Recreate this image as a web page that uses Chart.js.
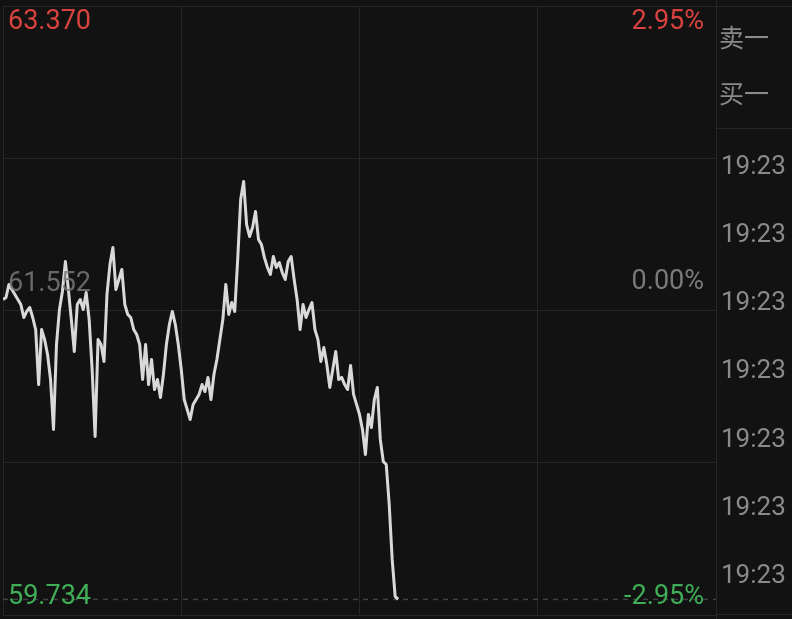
<!DOCTYPE html>
<html>
<head>
<meta charset="utf-8">
<style>
  html, body { margin: 0; padding: 0; background: #121212; }
  canvas { display: block; }
</style>
<script src="https://cdn.jsdelivr.net/npm/chart.js@4/dist/chart.umd.min.js"></script>
</head>
<body>
<canvas id="myChart" width="792" height="619"></canvas>
<script>
// intraday slots across the whole session
var totalSlots = 240;

// price per slot
var priceValues = [
  61.621, 61.634, 61.716, 61.684, 61.653, 61.621, 61.590, 61.508, 61.546, 61.571,
  61.508, 61.432, 61.086, 61.432, 61.370, 61.275, 61.118, 60.803, 61.338, 61.558,
  61.672, 61.860, 61.684, 61.495, 61.294, 61.590, 61.621, 61.558, 61.665, 61.495,
  61.181, 60.759, 61.370, 61.338, 61.231, 61.653, 61.841, 61.948, 61.684, 61.747,
  61.810, 61.590, 61.527, 61.508, 61.432, 61.401, 61.338, 61.118, 61.338, 61.086,
  61.244, 61.055, 61.118, 61.005, 61.149, 61.338, 61.464, 61.546, 61.464, 61.338,
  61.181, 60.992, 60.929, 60.866, 60.961, 60.992, 61.024, 61.086, 61.042, 61.131,
  60.992, 61.149, 61.244, 61.370, 61.495, 61.716, 61.527, 61.602, 61.546, 61.873,
  62.250, 62.364, 62.093, 62.018, 62.074, 62.175, 61.999, 61.967, 61.885, 61.823,
  61.779, 61.892, 61.823, 61.854, 61.791, 61.747, 61.860, 61.892, 61.747, 61.621,
  61.432, 61.590, 61.508, 61.558, 61.602, 61.432, 61.370, 61.231, 61.319, 61.212,
  61.068, 61.181, 61.294, 61.118, 61.131, 61.086, 61.055, 61.206, 61.024, 60.961,
  60.898, 60.803, 60.646, 60.898, 60.816, 60.992, 61.068, 60.741, 60.602, 60.583,
  60.332, 59.986, 59.753, 59.734
];

var topPrice = 63.370;
var midPrice = 61.552;
var bottomPrice = 59.734;
var topPct = '2.95%';
var midPct = '0.00%';
var bottomPct = '-2.95%';

var sideLabels = ['卖一', '买一'];
var timeLabels = ['19:23', '19:23', '19:23', '19:23', '19:23', '19:23', '19:23'];

// axis range a bit wider than the limit prices
var yMin = 59.636;
var yMax = 63.468;

var gridColor = '#262626';

function evenTicks(count) {
    return function (scale) {
        var t = [];
        for (var i = 0; i <= count; i++) {
            t.push({value: scale.min + i * (scale.max - scale.min) / count});
        }
        scale.ticks = t;
    };
}

var labelPlugin = {
    id: 'labels',
    afterDraw: function (chart) {
        var c = chart.ctx;
        var area = chart.chartArea;
        var y = chart.scales.y;
        var w = chart.width;

        c.save();
        // right panel frame
        c.strokeStyle = gridColor;
        c.lineWidth = 1;
        c.beginPath();
        c.moveTo(area.right + 0.5, 0);
        c.lineTo(area.right + 0.5, chart.height);
        c.moveTo(area.right, area.top + 0.5);
        c.lineTo(w, area.top + 0.5);
        c.moveTo(area.right, area.bottom - 0.5);
        c.lineTo(w, area.bottom - 0.5);
        c.moveTo(area.right, 128.5);
        c.lineTo(w, 128.5);
        c.stroke();

        c.font = '27px Roboto';
        c.textBaseline = 'middle';

        var yTop = y.getPixelForValue(topPrice) + 1;
        var yMid = y.getPixelForValue(midPrice) - 26;
        var yBot = y.getPixelForValue(bottomPrice) - 2;

        c.textAlign = 'left';
        c.fillStyle = '#d8433f';
        c.fillText(topPrice.toFixed(3), area.left + 5, yTop);
        c.fillStyle = 'rgba(120,120,120,0.85)';
        c.fillText(midPrice.toFixed(3), area.left + 5, yMid);
        c.fillStyle = '#3fae56';
        c.fillText(bottomPrice.toFixed(3), area.left + 5, yBot);

        c.textAlign = 'right';
        c.fillStyle = '#d8433f';
        c.fillText(topPct, area.right - 12, yTop);
        c.fillStyle = '#7a7a7a';
        c.fillText(midPct, area.right - 12, yMid - 2);
        c.fillStyle = '#3fae56';
        c.fillText(bottomPct, area.right - 12, yBot);

        // right panel text
        c.textAlign = 'left';
        c.fillStyle = '#8a8a8a';
        c.font = '25px "Noto Sans CJK SC"';
        for (var i = 0; i < sideLabels.length; i++) {
            c.fillText(sideLabels[i], area.right + 3, 37 + i * 56);
        }
        c.font = '26px Roboto';
        for (var j = 0; j < timeLabels.length; j++) {
            c.fillText(timeLabels[j], area.right + 5, 167 + j * 68.3);
        }
        c.restore();
    }
};

var lineChartData = {
    type: 'line',
    data: {
        datasets: [{
            label: 'price',
            data: priceValues.map(function (v, i) { return {x: i, y: v}; }),
            borderColor: '#d9d9d9',
            borderWidth: 3,
            borderJoinStyle: 'round',
            pointRadius: 0,
            tension: 0,
            fill: false
        }, {
            label: 'limit',
            data: [{x: 0, y: bottomPrice}, {x: totalSlots, y: bottomPrice}],
            borderColor: '#424242',
            borderWidth: 1.5,
            borderDash: [5, 5],
            pointRadius: 0,
            fill: false
        }]
    },
    options: {
        responsive: false,
        animation: false,
        layout: {padding: {left: 3, right: 76, top: 6, bottom: 4}},
        plugins: {legend: {display: false}, tooltip: {enabled: false}},
        scales: {
            x: {
                type: 'linear',
                min: 0,
                max: totalSlots,
                afterBuildTicks: evenTicks(4),
                ticks: {display: false},
                grid: {color: gridColor, drawTicks: false},
                border: {display: false}
            },
            y: {
                min: yMin,
                max: yMax,
                afterBuildTicks: evenTicks(4),
                ticks: {display: false},
                grid: {color: gridColor, drawTicks: false},
                border: {display: false}
            }
        }
    },
    plugins: [labelPlugin]
};

var ctx = document.getElementById('myChart').getContext('2d');
var myChart = new Chart(ctx, lineChartData);
</script>
</body>
</html>
